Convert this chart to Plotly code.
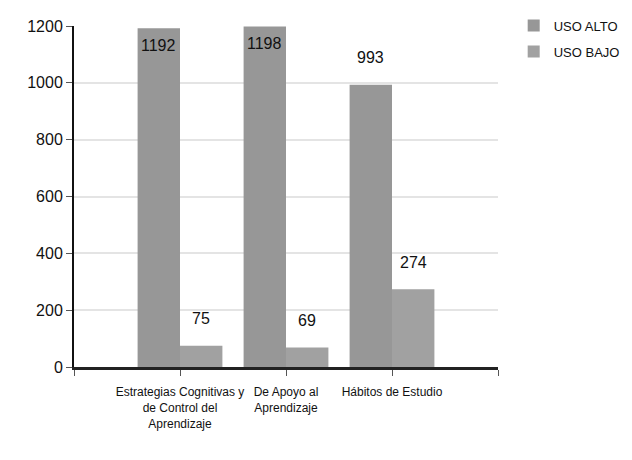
import plotly.graph_objects as go

categories = ["Estrategias Cognitivas y<br>de Control del<br>Aprendizaje",
              "De Apoyo al<br>Aprendizaje",
              "Hábitos de Estudio"]
series_names = ["USO ALTO", "USO BAJO"]
uso_alto = [1192, 1198, 993]
uso_bajo = [75, 69, 274]
y_ticks = [0, 200, 400, 600, 800, 1000, 1200]

colors = ["#979797", "#a1a1a1"]
FONT = "Liberation Sans Narrow, Arial Narrow, Liberation Sans, Arial"

xpos = list(range(1, len(categories) + 1))
fig = go.Figure()
series = [uso_alto, uso_bajo]
for i, (name, vals) in enumerate(zip(series_names, series)):
    fig.add_trace(go.Bar(x=xpos, y=vals, name=name, marker_color=colors[i],
                         marker_line_width=0, legendgroup=name,
                         hoverinfo="y"))

bar_w = 0.4
annotations = []
for i, vals in enumerate(series):
    off = (i - 0.5) * bar_w
    for xp, v in zip(xpos, vals):
        inside = v > 1100
        annotations.append(dict(x=xp + off, y=v, xref="x", yref="y",
                                text=str(v), showarrow=False,
                                yanchor="middle", yshift=-17 if inside else 27,
                                font=dict(family=FONT, size=16, color="#111")))

fig.update_layout(
    width=632, height=460,
    margin=dict(l=66, r=142, t=18, b=101, autoexpand=False),
    paper_bgcolor="white", plot_bgcolor="white",
    barmode="group", bargap=0.2, bargroupgap=0,
    font=dict(family=FONT, color="#111"),
    annotations=annotations,
    legend=dict(x=1.037, y=1.045, xanchor="left", yanchor="top",
                font=dict(family=FONT, size=13, color="#111"),
                tracegroupgap=6, bgcolor="rgba(0,0,0,0)"),
    xaxis=dict(range=[0, len(categories) + 1],
               tickvals=[0] + xpos + [len(categories) + 1],
               ticktext=[""] + categories + [""],
               showgrid=False, zeroline=False,
               showline=True, linecolor="#222", linewidth=3,
               ticks="outside", ticklen=6, tickcolor="#555", tickwidth=1,
               ticklabelstandoff=6,
               tickfont=dict(family=FONT, size=12, color="#111"),
               automargin=False),
    yaxis=dict(range=[0, 1200], tickvals=y_ticks,
               showgrid=True, gridcolor="#e4e4e4", gridwidth=2,
               zeroline=False, showline=True, linecolor="#111", linewidth=2,
               ticks="outside", ticklen=6, tickcolor="#555", tickwidth=1,
               tickfont=dict(family=FONT, size=16, color="#111"),
               automargin=False),
)

fig.write_html("out.html")
